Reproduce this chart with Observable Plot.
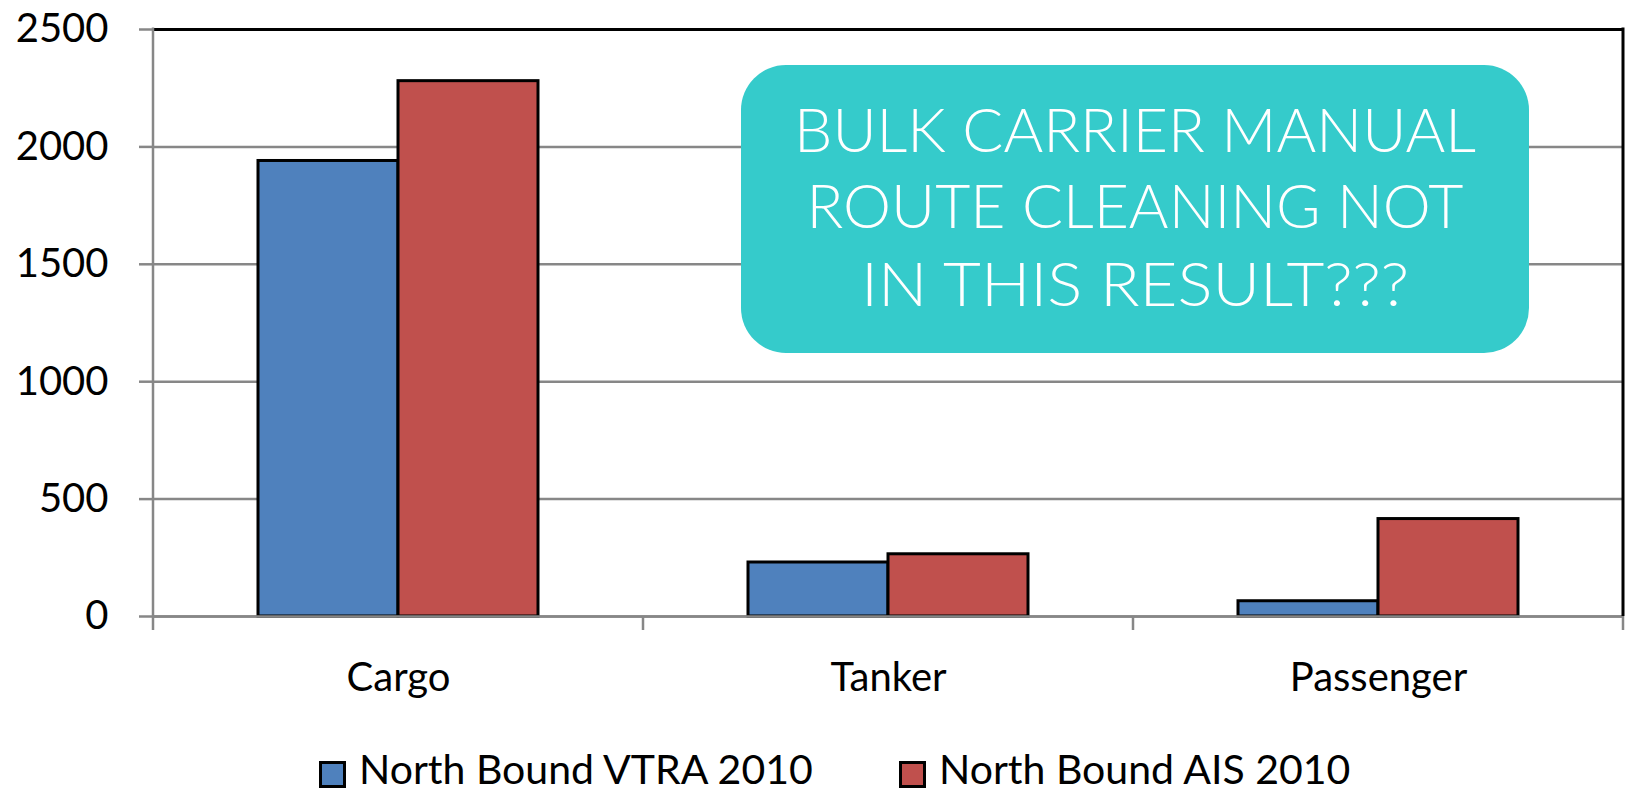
<!DOCTYPE html>
<html><head><meta charset="utf-8">
<script src="https://cdn.jsdelivr.net/npm/d3@7"></script>
<script src="https://cdn.jsdelivr.net/npm/@observablehq/plot@0.6"></script>
<style>
body{margin:0;background:#fff;}
#wrap{position:relative;width:1625px;height:794px;overflow:hidden;font-family:Lato,"Open Sans",sans-serif;}
#wrap svg{position:absolute;left:0;top:0;}
.lg-sw{position:absolute;width:27px;height:27px;box-sizing:border-box;border:3px solid #000;}
.lg-tx{position:absolute;font-size:41px;line-height:41px;white-space:nowrap;color:#000;}
</style></head><body><div id="wrap"></div>
<script>
const categories = ["Cargo", "Tanker", "Passenger"];
const seriesNames = ["North Bound VTRA 2010", "North Bound AIS 2010"];
const vtraValues = [1940, 230, 65];
const aisValues = [2280, 265, 415];
const yTicks = [0, 500, 1000, 1500, 2000, 2500];
const seriesColors = ["#4F81BD", "#C0504D"];
const noteLines = ["BULK CARRIER MANUAL", "ROUTE CLEANING NOT", "IN THIS RESULT???"];

const data = categories.flatMap((c, i) => [
  {category: c, series: seriesNames[0], value: vtraValues[i]},
  {category: c, series: seriesNames[1], value: aisValues[i]}
]);

const gray = "#878787";
const plot = Plot.plot({
  width: 1625, height: 740,
  marginTop: 29, marginBottom: 124, marginLeft: 152, marginRight: 2,
  style: {fontFamily: "Lato, 'Open Sans', sans-serif", background: "white", overflow: "visible"},
  fx: {domain: categories, padding: 0, label: null, axis: null},
  x: {domain: seriesNames, paddingInner: 0, paddingOuter: 0.75, axis: null},
  y: {domain: [0, 2500]},
  color: {domain: seriesNames, range: seriesColors},
  marks: [
    Plot.gridY(yTicks, {stroke: gray, strokeOpacity: 1, strokeWidth: 2.5}),
    Plot.axisY(yTicks, {tickSize: 14, tickPadding: 31, fontSize: 40, stroke: gray, strokeWidth: 2.5, fill: "black", label: null, tickFormat: d => String(d)}),
    Plot.axisFx({anchor: "bottom", tickSize: 0, tickPadding: 46, fontSize: 40, fill: "black", label: null}),
    Plot.barY(data, {fx: "category", x: "series", y: "value", fill: "series", stroke: "black", strokeWidth: 3}),
    Plot.ruleY([0], {stroke: gray, strokeWidth: 2.5}),
    Plot.ruleY([2500], {stroke: "black", strokeWidth: 3})
  ]
});

const wrap = document.getElementById("wrap");
wrap.appendChild(plot);

// structural lines derived from scales
const fx = plot.scale("fx"), y = plot.scale("y");
const svg = d3.select(plot);
const y0 = y.apply(0), yTop = y.apply(2500);
const bounds = categories.map(c => fx.apply(c));
bounds.push(bounds[bounds.length - 1] + fx.bandwidth);
const g = svg.append("g");
bounds.forEach((bx, i) => {
  g.append("line").attr("x1", bx).attr("x2", bx).attr("y1", i === 0 ? yTop - 1.5 : y0).attr("y2", y0 + 14)
    .attr("stroke", gray).attr("stroke-width", 2.5);
});
g.append("line").attr("x1", bounds[3]).attr("x2", bounds[3]).attr("y1", yTop - 1.5).attr("y2", y0)
  .attr("stroke", "black").attr("stroke-width", 3);

// annotation box
const box = {x: 741, y: 65, w: 788, h: 288, r: 45, fill: "#35CBCB"};
const lineBase = [152, 228, 306];
const lineLen = [682, 657, 548];
const ann = svg.append("g");
ann.append("rect").attr("x", box.x).attr("y", box.y).attr("width", box.w).attr("height", box.h)
  .attr("rx", box.r).attr("ry", box.r).attr("fill", box.fill);
noteLines.forEach((t, i) => {
  ann.append("text").text(t)
    .attr("x", box.x + box.w / 2).attr("y", lineBase[i])
    .attr("text-anchor", "middle").attr("fill", "white")
    .attr("font-family", "Lato, Roboto, sans-serif")
    .attr("font-size", 62).attr("font-weight", 300)
    .attr("textLength", lineLen[i]).attr("lengthAdjust", "spacingAndGlyphs");
});

// legend
const legendPos = [{sw: 319, tx: 359}, {sw: 899, tx: 939}];
seriesNames.forEach((s, i) => {
  const sw = document.createElement("div");
  sw.className = "lg-sw"; sw.style.left = legendPos[i].sw + "px"; sw.style.top = "761px";
  sw.style.background = seriesColors[i];
  wrap.appendChild(sw);
  const tx = document.createElement("div");
  tx.className = "lg-tx"; tx.style.left = legendPos[i].tx + "px"; tx.style.top = "748px";
  tx.textContent = s;
  wrap.appendChild(tx);
});
</script></body></html>
